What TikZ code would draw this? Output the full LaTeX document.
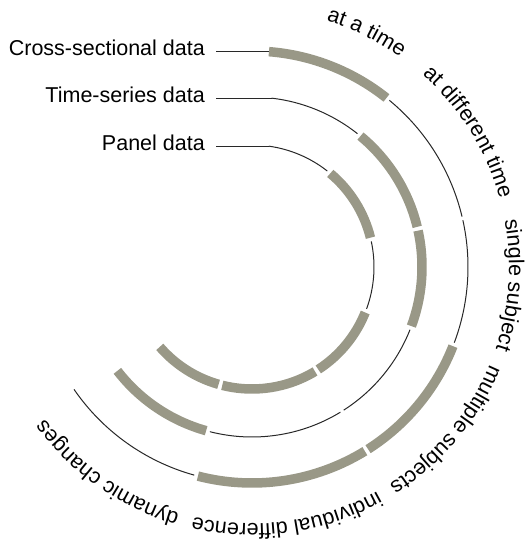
\documentclass[tikz,border=0pt]{standalone}
\usepackage{fontspec}
\setmainfont{Liberation Sans}
\usetikzlibrary{decorations.text}
\definecolor{bandgray}{RGB}{153,152,135}
\definecolor{linegray}{RGB}{40,40,40}

\begin{document}
\begin{tikzpicture}[x=1pt, y=1pt, font=\fontsize{21.5}{26}\selectfont,
  rimtext/.style={decorate, decoration={text along path, text align=center, text={|\fontsize{21.5}{26}\selectfont|#1}}}]
\tikzstyle{thickarc} = [line width=9.5pt, draw=bandgray]
\tikzstyle{thinarc} = [line width=1pt, draw=linegray]
\tikzstyle{datalabel} = [inner sep=0pt, anchor=base east, yshift=-4pt]
\useasboundingbox (-252,-278) rectangle (273,267);

\coordinate (labx) at (-47,0);

% cross-sectional ring
\coordinate (csStart) at (85.5:216);
\foreach \s/\e/\k in {86/51/thickarc, 51/13/thinarc, 13/-21/thinarc, -21/-58/thickarc, -58/-105/thickarc, -105/-146/thinarc}
  \draw[\k] (\s-0.5:216) arc[start angle=\s-0.5, end angle=\e+0.5, radius=216];

% time-series ring
\coordinate (tsStart) at (83.35:170);
\foreach \s/\e/\k in {84/51/thinarc, 51/13/thickarc, 13/-21/thickarc, -21/-58/thinarc, -58/-105/thinarc, -105/-143/thickarc}
  \draw[\k] (\s-0.65:170) arc[start angle=\s-0.65, end angle=\e+0.65, radius=170];

% panel ring
\coordinate (pdStart) at (82.1:122);
\foreach \s/\e/\k in {83/51/thinarc, 51/13/thickarc, 13/-21/thinarc, -21/-58/thickarc, -58/-105/thickarc, -105/-140/thickarc}
  \draw[\k] (\s-0.9:122) arc[start angle=\s-0.9, end angle=\e+0.9, radius=122];

\node[datalabel] (cs) at (csStart -| labx) {Cross-sectional data};
\node[datalabel] (ts) at (tsStart -| labx) {Time-series data};
\node[datalabel] (pd) at (pdStart -| labx) {Panel data};

\draw[thinarc, shorten >=11pt] (csStart) -- (csStart -| cs.east);
\draw[thinarc, shorten >=11pt] (tsStart) -- (tsStart -| ts.east);
\draw[thinarc, shorten >=11pt] (pdStart) -- (pdStart -| pd.east);

% labels round the rim
\path[rimtext=at a time] (99:257) arc[start angle=99, end angle=29, radius=257];
\path[rimtext=at different time] (67:257) arc[start angle=67, end angle=-3, radius=257];
\path[rimtext=single subject] (31:257) arc[start angle=31, end angle=-39, radius=257];
\path[rimtext=multiple subjects] (-5:257) arc[start angle=-5, end angle=-75, radius=257];
\path[rimtext=individual difference] (-47:257) arc[start angle=-47, end angle=-117, radius=257];
\path[rimtext=dynamic changes] (-90:257) arc[start angle=-90, end angle=-160, radius=257];

\end{tikzpicture}
\end{document}
